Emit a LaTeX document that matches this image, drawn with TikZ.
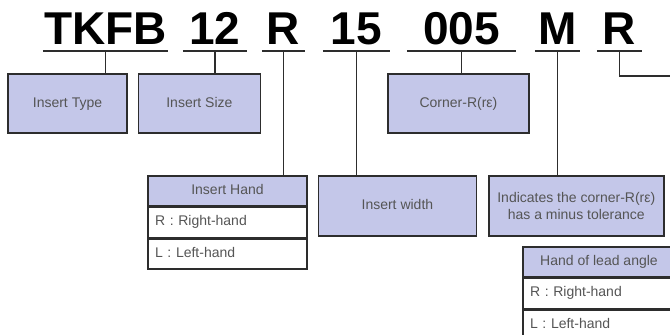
\documentclass[tikz,border=0pt]{standalone}
\usepackage{fontspec}
\setmainfont{Liberation Sans}
\usepackage{tikz}
\usetikzlibrary{positioning}
\usepackage{xcolor}
\definecolor{boxfill}{RGB}{196,199,233}
\definecolor{boxline}{RGB}{45,45,45}
\definecolor{labeltext}{RGB}{85,85,85}

\begin{document}
\begin{tikzpicture}[
    x=1pt, y=-1pt,
    codeseg/.style={
        inner xsep=0pt,
        inner ysep=0pt,
        anchor=south,
        text height=33pt,
        text depth=6pt,
        font=\fontsize{46}{46}\selectfont\bfseries
    },
    uline/.style={line width=1.8pt, boxline},
    link/.style={line width=1.2pt, boxline},
    block/.style={
        rectangle,
        draw=boxline,
        line width=1.4pt,
        fill=boxfill,
        align=center,
        inner sep=2pt,
        minimum height=59pt,
        text height=10pt,
        text depth=3pt,
        text=labeltext,
        font=\fontsize{14}{16.5}\selectfont
    },
    tablehead/.style={
        block,
        minimum height=30pt
    },
    tablerow/.style={
        block,
        fill=white,
        minimum height=30pt,
        align=left,
        inner xsep=7pt
    }
]
\path[use as bounding box, clip] (0,0) rectangle (670,335);

% Code letters
\node[codeseg, minimum width=125pt] (tkfb) at (105.5,51) {TKFB};
\node[codeseg, minimum width=64pt] (size) at (215,51) {12};
\node[codeseg, minimum width=43pt] (hand) at (283.5,51) {R};
\node[codeseg, minimum width=67pt] (width) at (356.5,51) {15};
\node[codeseg, minimum width=109pt] (corner) at (461.5,51) {005};
\node[codeseg, minimum width=45pt] (minus) at (557.5,51) {M};
\node[codeseg, minimum width=45pt] (lead) at (619.5,51) {R};

\foreach \seg in {tkfb, size, hand, width, corner, minus, lead}
    \draw[uline] (\seg.south west) -- (\seg.south east);

% First row of boxes
\node[block, minimum width=119pt] (typebox) at (67.5,103.5) {Insert Type};
\node[block, minimum width=122pt, right=10pt of typebox] (sizebox) {Insert Size};
\node[block, minimum width=141pt] (cornerbox) at (458.5,103.5) {Corner-R(rε)};

% Insert hand table
\node[tablehead, minimum width=159pt] (handhead) at (227.5,191) {Insert Hand};
\node[tablerow, text width=145pt, below=0pt of handhead] (handright) {R : Right-hand};
\node[tablerow, text width=145pt, below=0pt of handright] (handleft) {L : Left-hand};

% Second row of boxes
\node[block, minimum width=158pt, minimum height=60pt,
      right=10pt of handhead.north east, anchor=north west] (widthbox) {Insert width};
\node[block, minimum width=175pt, minimum height=60pt, text height={}, text depth={},
      right=11pt of widthbox] (minusbox)
    {Indicates the corner-R(rε)\\has a minus tolerance};

% Hand of lead angle table
\node[tablehead, minimum width=152pt] (leadhead) at (599,262) {Hand of lead angle};
\node[tablerow, text width=138pt, below=0pt of leadhead] (leadright) {R : Right-hand};
\node[tablerow, text width=138pt, below=0pt of leadright] (leadleft) {L : Left-hand};

% Leaders
\coordinate (leadend) at (675,76);
\draw[link] (tkfb.south) -- (tkfb.south |- typebox.north);
\draw[link] (size.south) -- (size.south |- sizebox.north);
\draw[link] (hand.south) -- (hand.south |- handhead.north);
\draw[link] (width.south) -- (width.south |- widthbox.north);
\draw[link] (corner.south) -- (corner.south |- cornerbox.north);
\draw[link] (minus.south) -- (minus.south |- minusbox.north);
\draw[link] (lead.south) |- (leadend);

\end{tikzpicture}
\end{document}
